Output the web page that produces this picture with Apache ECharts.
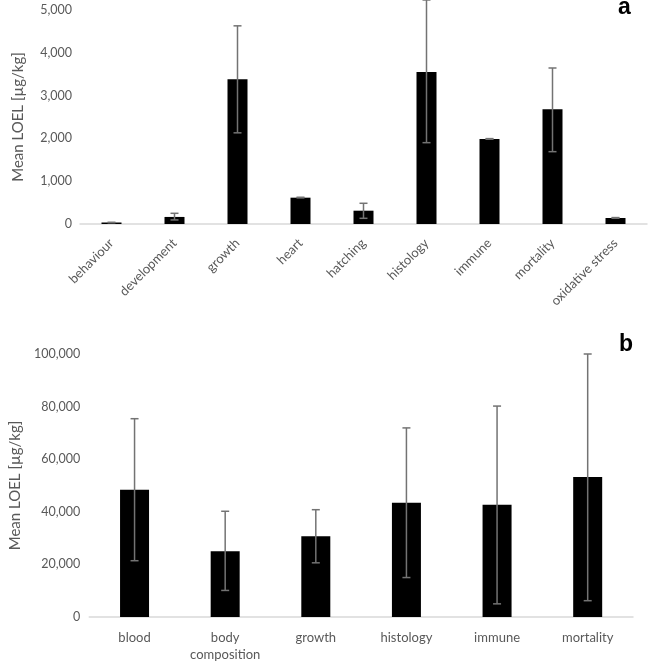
<!DOCTYPE html>
<html>
<head>
<meta charset="utf-8">
<script src="https://cdn.jsdelivr.net/npm/echarts@6/dist/echarts.min.js"></script>
<style>
html,body{margin:0;padding:0;background:#fff;}
#chart{width:648px;height:663px;}
</style>
</head>
<body>
<div id="chart"></div>
<script>
// Panel a
var catsA = ['behaviour','development','growth','heart','hatching','histology','immune','mortality','oxidative stress'];
var meanA = [35, 165, 3380, 615, 311, 3550, 1985, 2680, 140];
var lowA  = [30, 95, 2130, 610, 133, 1900, 1980, 1690, 135];
var highA = [40, 250, 4630, 625, 484, 5234, 1995, 3645, 150];
var ticksA = [0, 1000, 2000, 3000, 4000, 5000];

// Panel b
var catsB = ['blood','body\ncomposition','growth','histology','immune','mortality'];
var meanB = [48400, 25000, 30700, 43400, 42700, 53200];
var lowB  = [21400, 10100, 20600, 15000, 5000, 6200];
var highB = [75400, 40200, 40800, 71900, 80200, 100000];
var ticksB = [0, 20000, 40000, 60000, 80000, 100000];

var yName = 'Mean LOEL [µg/kg]';
var gray = '#595959';
var font = 'Lato';

function errData(low, high) {
  return low.map(function (l, i) { return [i, l, high[i]]; });
}
function errItem(params, api) {
  var lo = api.coord([api.value(0), api.value(1)]);
  var hi = api.coord([api.value(0), api.value(2)]);
  var half = 4;
  var style = { stroke: '#737373', lineWidth: 1.5 };
  return { type: 'group', children: [
    { type: 'line', shape: { x1: lo[0], y1: hi[1], x2: lo[0], y2: lo[1] }, style: style },
    { type: 'line', shape: { x1: lo[0] - half, y1: hi[1], x2: lo[0] + half, y2: hi[1] }, style: style },
    { type: 'line', shape: { x1: lo[0] - half, y1: lo[1], x2: lo[0] + half, y2: lo[1] }, style: style }
  ]};
}
function fmt(v) { return Number(v).toLocaleString('en-US'); }

var chart = echarts.init(document.getElementById('chart'), null, { renderer: 'canvas' });
chart.setOption({
  animation: false,
  backgroundColor: '#fff',
  textStyle: { fontFamily: font },
  grid: [
    { left: 80, width: 567, top: 10, height: 214 },
    { left: 80, width: 553, top: 354, height: 267 }
  ],
  xAxis: [
    { type: 'category', gridIndex: 0, data: catsA,
      axisLine: { lineStyle: { color: '#d9d9d9', width: 1.5 } },
      axisTick: { show: false },
      axisLabel: { rotate: 45, interval: 0, color: gray, fontFamily: font, fontSize: 13, margin: 17 } },
    { type: 'category', gridIndex: 1, data: catsB,
      axisLine: { lineStyle: { color: '#d9d9d9', width: 1.5 } },
      axisTick: { show: false },
      axisLabel: { interval: 0, color: gray, fontFamily: font, fontSize: 13, margin: 12, lineHeight: 17 } }
  ],
  yAxis: [
    { type: 'value', gridIndex: 0, min: ticksA[0], max: ticksA[ticksA.length - 1], interval: ticksA[1] - ticksA[0],
      name: yName, nameLocation: 'middle', nameGap: 54,
      nameTextStyle: { color: gray, fontFamily: font, fontSize: 15 },
      axisLine: { show: false }, axisTick: { show: false }, splitLine: { show: false },
      axisLabel: { color: gray, fontFamily: font, fontSize: 12.5, margin: 8, formatter: fmt } },
    { type: 'value', gridIndex: 1, min: ticksB[0], max: ticksB[ticksB.length - 1], interval: ticksB[1] - ticksB[0],
      name: yName, nameLocation: 'middle', nameGap: 65,
      nameTextStyle: { color: gray, fontFamily: font, fontSize: 15 },
      axisLine: { show: false }, axisTick: { show: false }, splitLine: { show: false },
      axisLabel: { color: gray, fontFamily: font, fontSize: 12.5, margin: 9, formatter: fmt } }
  ],
  series: [
    { type: 'bar', xAxisIndex: 0, yAxisIndex: 0, data: meanA, barWidth: 20,
      itemStyle: { color: '#000' } },
    { type: 'custom', xAxisIndex: 0, yAxisIndex: 0, data: errData(lowA, highA),
      renderItem: errItem, clip: false, z: 5 },
    { type: 'bar', xAxisIndex: 1, yAxisIndex: 1, data: meanB, barWidth: 29,
      itemStyle: { color: '#000' } },
    { type: 'custom', xAxisIndex: 1, yAxisIndex: 1, data: errData(lowB, highB),
      renderItem: errItem, clip: false, z: 5 }
  ],
  graphic: [
    { type: 'text', left: 618, top: -4, style: { text: 'a', font: 'bold 23px "Liberation Sans"', fill: '#000' } },
    { type: 'text', left: 619, top: 333, style: { text: 'b', font: 'bold 23px "Liberation Sans"', fill: '#000' } }
  ]
});
</script>
</body>
</html>
